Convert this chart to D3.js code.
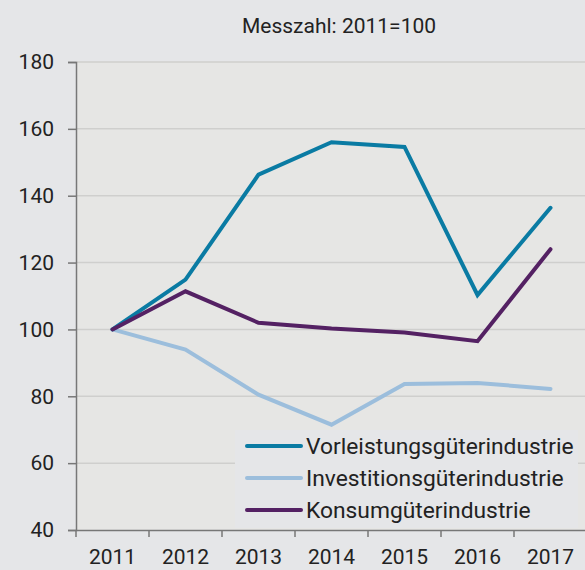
<!DOCTYPE html>
<html><head><meta charset="utf-8">
<script src="https://cdn.jsdelivr.net/npm/d3@7"></script>
<style>body{margin:0;background:#e5e6e8;} svg{display:block;}</style>
</head><body>
<script>
const years = ["2011","2012","2013","2014","2015","2016","2017"];
const vorleistung = [100, 114.9, 146.3, 156.0, 154.6, 110.3, 136.4];
const investition = [100, 94.0, 80.5, 71.5, 83.7, 84.0, 82.2];
const konsum = [100, 111.4, 102.0, 100.3, 99.1, 96.5, 124.0];
const yTicks = [40, 60, 80, 100, 120, 140, 160, 180];
const seriesNames = ["Vorleistungsgüterindustrie", "Investitionsgüterindustrie", "Konsumgüterindustrie"];
const colors = ["#0a7ba3", "#9cbedc", "#542163"];
const title = "Messzahl: 2011=100";

const W = 585, H = 570;
const font = "Roboto, 'Noto Sans', sans-serif";
const svg = d3.select("body").append("svg").attr("width", W).attr("height", H);
svg.append("rect").attr("width", W).attr("height", H).attr("fill", "#e5e6e8");

const mLeft = 76, mRight = 587, mTop = 62, mBottom = 530;
const x = d3.scaleBand().domain(years).range([mLeft, mRight]);
const y = d3.scaleLinear().domain([40, 180]).range([mBottom, mTop]);

svg.append("rect").attr("x", mLeft).attr("y", mTop).attr("width", W - mLeft).attr("height", mBottom - mTop).attr("fill", "#e6e6e4");

// gridlines
svg.append("g").selectAll("line").data(yTicks.filter(d => d > 40)).join("line")
  .attr("x1", mLeft).attr("x2", W).attr("y1", d => y(d)).attr("y2", d => y(d))
  .attr("stroke", "#cfcfcd").attr("stroke-width", 1.5);

// y axis
const yAxis = svg.append("g").attr("transform", `translate(${mLeft},0)`)
  .call(d3.axisLeft(y).tickValues(yTicks).tickSize(8).tickPadding(14));
yAxis.select(".domain").attr("stroke", "#777").attr("stroke-width", 1.5);
yAxis.selectAll(".tick line").attr("stroke", "#777").attr("stroke-width", 1.5);
yAxis.selectAll("text").attr("font-family", font).attr("font-size", 21).attr("fill", "#222");

// x axis
const xAxis = svg.append("g").attr("transform", `translate(0,${mBottom})`)
  .call(d3.axisBottom(x).tickSize(0).tickPadding(19));
xAxis.select(".domain").attr("stroke", "#777").attr("stroke-width", 1.5);
xAxis.selectAll("text").attr("font-family", font).attr("font-size", 21).attr("fill", "#222");
svg.append("g").selectAll("line").data(years).join("line")
  .attr("x1", d => x(d)).attr("x2", d => x(d)).attr("y1", mBottom).attr("y2", mBottom + 7)
  .attr("stroke", "#777").attr("stroke-width", 1.5);

// title
svg.append("text").attr("x", 339).attr("y", 33).attr("text-anchor", "middle")
  .attr("font-family", font).attr("font-size", 21).attr("fill", "#222").text(title);

// lines
const data = [vorleistung, investition, konsum];
const line = d3.line().x((d, i) => x(years[i]) + x.bandwidth() / 2).y(d => y(d));
const drawOrder = [1, 0, 2];
drawOrder.forEach(k => {
  svg.append("path").attr("d", line(data[k])).attr("fill", "none")
    .attr("stroke", colors[k]).attr("stroke-width", 4).attr("stroke-linejoin", "miter").attr("stroke-linecap", "round");
});

// legend
svg.append("rect").attr("x", 235).attr("y", 430).attr("width", 343).attr("height", 98).attr("fill", "#e5e6e8");
const lg = svg.append("g").selectAll("g").data(seriesNames).join("g")
  .attr("transform", (d, i) => `translate(247,${446 + i * 32})`);
lg.append("line").attr("x1", 0).attr("x2", 54).attr("stroke", (d, i) => colors[i]).attr("stroke-width", 4).attr("stroke-linecap", "round");
lg.append("text").attr("x", 59).attr("dy", "0.35em").attr("font-family", font).attr("font-size", 22.8).attr("fill", "#222").text(d => d);
</script>
</body></html>
